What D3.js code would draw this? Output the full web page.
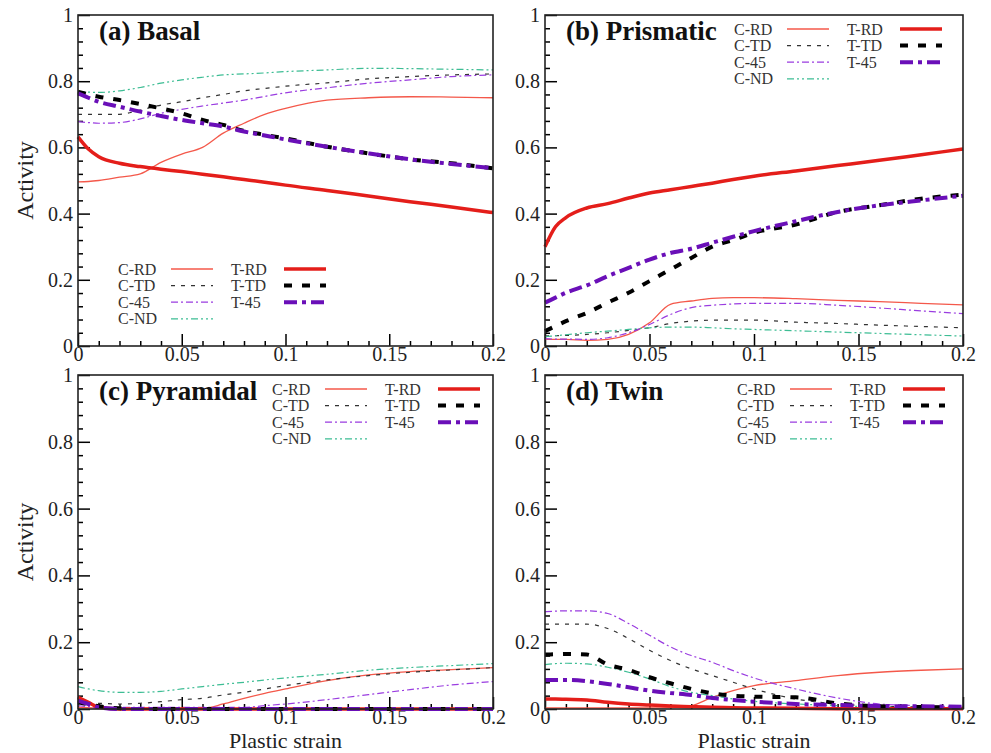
<!DOCTYPE html>
<html>
<head>
<meta charset="utf-8">
<script src="https://cdn.jsdelivr.net/npm/d3@7"></script>
<style>
  body { margin: 0; background: #fff; }
  svg { display: block; }
  svg text { font-family: "Liberation Serif", "Times New Roman", serif; }
</style>
</head>
<body>
<div id="chart"></div>
<script>
// plastic strain grid shared by every curve
const strain = [0, 0.005, 0.01, 0.02, 0.03, 0.04, 0.05, 0.06, 0.07, 0.08, 0.09, 0.1, 0.12, 0.14, 0.16, 0.18, 0.2];

const xTicks = [0, 0.05, 0.1, 0.15, 0.2];
const yTicks = [0, 0.2, 0.4, 0.6, 0.8, 1];

const seriesNames = ["C-RD", "C-TD", "C-45", "C-ND", "T-RD", "T-TD", "T-45"];

// (a) basal
const basalCRD = [0.496, 0.497, 0.50, 0.51, 0.52, 0.555, 0.58, 0.60, 0.643, 0.673, 0.70, 0.718, 0.743, 0.75, 0.753, 0.752, 0.75];
const basalCTD = [0.70, 0.70, 0.70, 0.70, 0.713, 0.728, 0.738, 0.75, 0.76, 0.771, 0.778, 0.785, 0.795, 0.807, 0.814, 0.819, 0.822];
const basalC45 = [0.678, 0.675, 0.673, 0.675, 0.686, 0.703, 0.715, 0.725, 0.734, 0.743, 0.754, 0.765, 0.78, 0.794, 0.804, 0.814, 0.819];
const basalCND = [0.768, 0.767, 0.766, 0.771, 0.781, 0.794, 0.804, 0.812, 0.819, 0.822, 0.825, 0.829, 0.834, 0.839, 0.838, 0.836, 0.834];
const basalTRD = [0.632, 0.595, 0.572, 0.552, 0.542, 0.534, 0.527, 0.519, 0.511, 0.503, 0.495, 0.486, 0.47, 0.453, 0.436, 0.42, 0.403];
const basalTTD = [0.768, 0.76, 0.753, 0.743, 0.731, 0.718, 0.703, 0.683, 0.668, 0.65, 0.638, 0.627, 0.602, 0.582, 0.564, 0.552, 0.537];
const basalT45 = [0.763, 0.75, 0.738, 0.723, 0.708, 0.695, 0.683, 0.673, 0.663, 0.648, 0.636, 0.624, 0.602, 0.582, 0.564, 0.55, 0.537];

// (b) prismatic
const prismCRD = [0.02, 0.02, 0.02, 0.017, 0.02, 0.035, 0.07, 0.126, 0.136, 0.144, 0.146, 0.146, 0.143, 0.138, 0.134, 0.129, 0.124];
const prismCTD = [0.03, 0.031, 0.032, 0.035, 0.04, 0.047, 0.055, 0.068, 0.075, 0.078, 0.078, 0.078, 0.072, 0.068, 0.063, 0.059, 0.055];
const prismC45 = [0.022, 0.021, 0.021, 0.02, 0.025, 0.04, 0.065, 0.095, 0.116, 0.123, 0.127, 0.129, 0.129, 0.123, 0.115, 0.106, 0.098];
const prismCND = [0.028, 0.031, 0.034, 0.04, 0.045, 0.05, 0.055, 0.057, 0.057, 0.055, 0.052, 0.05, 0.046, 0.042, 0.038, 0.034, 0.03];
const prismTRD = [0.30, 0.36, 0.388, 0.417, 0.43, 0.447, 0.462, 0.472, 0.482, 0.492, 0.503, 0.513, 0.529, 0.545, 0.561, 0.578, 0.595];
const prismTTD = [0.045, 0.06, 0.075, 0.10, 0.131, 0.161, 0.196, 0.231, 0.266, 0.30, 0.32, 0.342, 0.367, 0.405, 0.425, 0.445, 0.457];
const prismT45 = [0.131, 0.146, 0.161, 0.183, 0.211, 0.236, 0.261, 0.281, 0.294, 0.312, 0.33, 0.347, 0.377, 0.405, 0.425, 0.44, 0.454];

// (c) pyramidal
const pyrCRD = [0.005, 0.004, 0.003, 0.002, 0.002, 0.002, 0.002, 0.002, 0.015, 0.032, 0.047, 0.06, 0.085, 0.102, 0.112, 0.118, 0.124];
const pyrCTD = [0.02, 0.018, 0.017, 0.015, 0.017, 0.022, 0.028, 0.032, 0.042, 0.05, 0.06, 0.07, 0.087, 0.10, 0.11, 0.117, 0.124];
const pyrC45 = [0.01, 0.007, 0.005, 0.005, 0.005, 0.005, 0.005, 0.005, 0.005, 0.005, 0.01, 0.015, 0.028, 0.043, 0.058, 0.072, 0.082];
const pyrCND = [0.067, 0.06, 0.055, 0.05, 0.05, 0.053, 0.06, 0.067, 0.074, 0.08, 0.087, 0.093, 0.104, 0.116, 0.124, 0.13, 0.136];
const pyrTRD = [0.035, 0.02, 0.005, 0, 0, 0, 0, 0, 0, 0, 0, 0, 0, 0, 0, 0, 0];
const pyrTTD = [0.02, 0.014, 0.008, 0.002, 0, 0, 0, 0, 0, 0, 0, 0, 0, 0, 0, 0, 0];
const pyrT45 = [0.025, 0.015, 0.005, 0, 0, 0, 0, 0, 0, 0, 0, 0, 0, 0, 0, 0, 0];

// (d) twin
const twinCRD = [0.003, 0.003, 0.003, 0.003, 0.003, 0.003, 0.003, 0.004, 0.01, 0.035, 0.055, 0.07, 0.085, 0.10, 0.11, 0.116, 0.12];
const twinCTD = [0.254, 0.254, 0.254, 0.254, 0.241, 0.211, 0.176, 0.145, 0.12, 0.10, 0.08, 0.06, 0.03, 0.015, 0.008, 0.006, 0.005];
const twinC45 = [0.291, 0.293, 0.294, 0.294, 0.286, 0.256, 0.221, 0.186, 0.16, 0.14, 0.115, 0.093, 0.06, 0.033, 0.015, 0.01, 0.007];
const twinCND = [0.133, 0.136, 0.137, 0.135, 0.125, 0.11, 0.09, 0.067, 0.05, 0.04, 0.03, 0.023, 0.015, 0.01, 0.006, 0.004, 0.003];
const twinTRD = [0.03, 0.03, 0.029, 0.027, 0.02, 0.015, 0.012, 0.009, 0.007, 0.005, 0.004, 0.003, 0.002, 0.001, 0.001, 0.001, 0.001];
const twinTTD = [0.163, 0.164, 0.165, 0.163, 0.133, 0.117, 0.095, 0.077, 0.06, 0.047, 0.04, 0.037, 0.035, 0.017, 0.008, 0.006, 0.005];
const twinT45 = [0.087, 0.087, 0.087, 0.083, 0.075, 0.065, 0.055, 0.048, 0.042, 0.033, 0.027, 0.022, 0.015, 0.012, 0.009, 0.008, 0.007];

// line styles per series
const styles = {
    "C-RD": { color: "#f4584a", width: 1.3, dash: null },
    "C-TD": { color: "#333333", width: 1.2, dash: "4,6" },
    "C-45": { color: "#9a3de0", width: 1.2, dash: "7,3,2,3" },
    "C-ND": { color: "#3dbd94", width: 1.2, dash: "7,3,2,3,2,3" },
    "T-RD": { color: "#e41e1a", width: 3.5, dash: null },
    "T-TD": { color: "#000000", width: 4, dash: "8,10" },
    "T-45": { color: "#6a0fb8", width: 4, dash: "13,5,4,5" }
};

const FONT = '"Liberation Serif", "Times New Roman", serif';
const width = 991, height = 753;
const svg = d3.select("#chart").append("svg")
    .attr("width", width)
    .attr("height", height);

const panels = [
    { title: "(a) Basal", box: [78, 493, 15, 346], data: [basalCRD, basalCTD, basalC45, basalCND, basalTRD, basalTTD, basalT45],
      legend: [118, 269], yTitle: true, xTitle: false },
    { title: "(b) Prismatic", box: [545, 963, 15, 346], data: [prismCRD, prismCTD, prismC45, prismCND, prismTRD, prismTTD, prismT45],
      legend: [734, 29], yTitle: false, xTitle: false },
    { title: "(c) Pyramidal", box: [78, 493, 375, 709], data: [pyrCRD, pyrCTD, pyrC45, pyrCND, pyrTRD, pyrTTD, pyrT45],
      legend: [272, 389], yTitle: true, xTitle: true },
    { title: "(d) Twin", box: [545, 963, 375, 709], data: [twinCRD, twinCTD, twinC45, twinCND, twinTRD, twinTTD, twinT45],
      legend: [737, 389], yTitle: false, xTitle: true }
];

panels.forEach(drawPanel);

function drawPanel(p) {
    const [x0, x1, y0, y1] = p.box;
    const x = d3.scaleLinear().domain([0, 0.2]).range([x0, x1]);
    const y = d3.scaleLinear().domain([0, 1]).range([y1, y0]);
    const g = svg.append("g");

    // minor ticks first, then major ticks with labels
    const xMinor = d3.range(0, 21).map(i => i / 100).filter(v => Math.round(v * 100) % 5 !== 0);
    const yMinor = d3.range(0, 26).map(i => i * 0.04).filter(v => Math.round(v * 100) % 20 !== 0);

    g.append("g")
        .attr("transform", `translate(0,${y1})`)
        .call(d3.axisBottom(x).tickValues(xMinor).tickSize(-5).tickFormat(""));
    g.append("g")
        .attr("transform", `translate(${x0},0)`)
        .call(d3.axisLeft(y).tickValues(yMinor).tickSize(-5).tickFormat(""));

    g.append("g")
        .attr("transform", `translate(0,${y1})`)
        .call(d3.axisBottom(x).tickValues(xTicks).tickSize(-12).tickPadding(1).tickFormat(d => String(d)));
    g.append("g")
        .attr("transform", `translate(${x0},0)`)
        .call(d3.axisLeft(y).tickValues(yTicks).tickSize(-12).tickPadding(5).tickFormat(d => String(d)));

    g.selectAll(".domain").remove();
    g.selectAll("g").attr("font-family", FONT).attr("font-size", 20);
    g.selectAll(".tick line").attr("stroke", "#000").attr("stroke-width", 1.5);
    g.selectAll(".tick text")
        .attr("fill", "#222")
        .attr("font-family", FONT)
        .attr("font-size", 20);

    // curves
    const line = d3.line()
        .x((d, i) => x(strain[i]))
        .y(d => y(d))
        .curve(d3.curveMonotoneX);

    seriesNames.forEach((name, k) => {
        const s = styles[name];
        g.append("path")
            .datum(p.data[k])
            .attr("fill", "none")
            .attr("stroke", s.color)
            .attr("stroke-width", s.width)
            .attr("stroke-dasharray", s.dash)
            .attr("d", line);
    });

    // frame
    g.append("rect")
        .attr("x", x0).attr("y", y0)
        .attr("width", x1 - x0).attr("height", y1 - y0)
        .attr("fill", "none")
        .attr("stroke", "#222")
        .attr("stroke-width", 1.6);

    // panel title
    g.append("text")
        .attr("x", x0 + 21)
        .attr("y", y0 + 25)
        .attr("font-family", FONT)
        .attr("font-size", 27)
        .attr("font-weight", "bold")
        .attr("fill", "#111")
        .text(p.title);

    // legend: two columns, compression left, tension right
    const [lx, ly] = p.legend;
    const rowH = 16.6;
    seriesNames.forEach((name, k) => {
        const col = k < 4 ? 0 : 1;
        const row = k < 4 ? k : k - 4;
        const tx = lx + col * 113;
        const ty = ly + row * rowH;
        const s = styles[name];
        g.append("text")
            .attr("x", tx)
            .attr("y", ty + 5.5)
            .attr("font-family", FONT)
            .attr("font-size", 16)
            .attr("fill", "#333")
            .text(name);
        g.append("line")
            .attr("x1", tx + 53).attr("x2", tx + 95)
            .attr("y1", ty).attr("y2", ty)
            .attr("stroke", s.color)
            .attr("stroke-width", s.width)
            .attr("stroke-dasharray", s.dash);
    });

    if (p.yTitle) {
        g.append("text")
            .attr("transform", `translate(${x0 - 53},${(y0 + y1) / 2}) rotate(-90)`)
            .attr("text-anchor", "middle")
            .attr("dy", "0.35em")
            .attr("font-family", FONT)
            .attr("font-size", 24)
            .attr("fill", "#222")
            .text("Activity");
    }
    if (p.xTitle) {
        g.append("text")
            .attr("x", (x0 + x1) / 2)
            .attr("y", y1 + 39)
            .attr("text-anchor", "middle")
            .attr("font-family", FONT)
            .attr("font-size", 22)
            .attr("fill", "#222")
            .text("Plastic strain");
    }
}
</script>
</body>
</html>
